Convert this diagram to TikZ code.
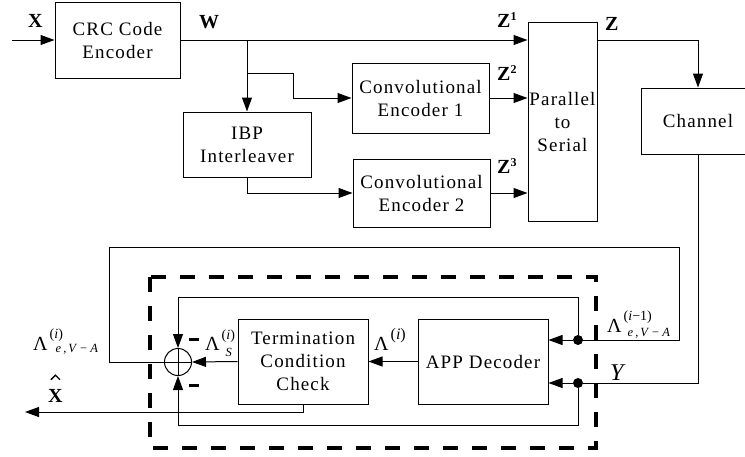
\RequirePackage{fix-cm}
\documentclass[tikz,border=0pt]{standalone}
\usepackage{fontspec}
\setmainfont{Liberation Serif}
\usetikzlibrary{arrows.meta}
\newcommand{\supf}{\fontsize{14}{14}\selectfont}
\newcommand{\subf}{\fontsize{12.5}{12.5}\selectfont}
\newcommand{\digf}{\fontsize{12}{12}\selectfont}
\newcommand{\evaSub}{\subf\textit{e}\kern2pt,\kern2pt\textit{V}\kern3pt−\kern3pt\textit{A}}
\begin{document}
\begin{tikzpicture}[x=1pt,y=-1pt,
  box/.style={draw,line width=1pt,align=center,inner sep=0pt,
    font=\fontsize{19}{23}\selectfont\addfontfeatures{LetterSpace=6}},
  wire/.style={line width=1pt},
  arr/.style={wire,-{Triangle[length=14pt,width=10pt]}},
  lbl/.style={font=\fontsize{20}{22}\selectfont\bfseries,inner sep=0pt,anchor=base west},
  mlbl/.style={font=\fontsize{20}{22}\selectfont,inner sep=0pt,anchor=base west},
  dot/.style={circle,fill,inner sep=0pt,minimum size=10pt},
  minus/.style={inner sep=0pt},
  sumnode/.style={circle,draw,line width=1pt,minimum size=27pt,inner sep=0pt,
    path picture={\draw[line width=1pt]
      (path picture bounding box.north) -- (path picture bounding box.south)
      (path picture bounding box.west) -- (path picture bounding box.east);}},
  dashbox/.style={line width=3.5pt,dash pattern=on 15pt off 14pt}
]
\useasboundingbox (0,0) rectangle (745,456);
% blocks
\node[box,minimum width=125pt,minimum height=76pt] (crc) at (117.5,40) {CRC Code\\Encoder};
\node[box,minimum width=137pt,minimum height=70pt] (ce1) at (420.5,98) {Convolutional\\Encoder 1};
\node[box,minimum width=128pt,minimum height=65pt] (ibp) at (247,144.5) {IBP\\Interleaver};
\node[box,minimum width=137pt,minimum height=68pt] (ce2) at (421.5,193) {Convolutional\\Encoder 2};
\node[box,minimum width=69pt,minimum height=199pt] (ps) at (562.5,121.5) {Parallel\\to\\Serial};
\node[box,minimum width=114pt,minimum height=66pt] (ch) at (698,121) {Channel};
\node[box,minimum width=130pt,minimum height=85pt] (tcc) at (303,361.5) {Termination\\Condition\\Check};
\node[box,minimum width=130pt,minimum height=85pt] (app) at (483,361.5) {APP Decoder};
\node[sumnode] (sum) at (178,362) {};
\node[dot] (d1) at (578,340) {};
\node[dot] (d2) at (578,383) {};
% dashed decoder region
\draw[dashbox] (150,277) rectangle (596,448);
% coordinates
\coordinate (xin) at (12,40);
\coordinate (b1) at (247,40);
\coordinate (b2) at (247,73);
\coordinate (xout) at (25,412);
% encoder part
\draw[arr] (xin) -- (crc.west);
\draw[arr] (crc.east) -- (crc.east -| ps.west);
\draw[arr] (b1) -- (ibp.north);
\draw[arr] (b2) -- (293,73) -- (293,98) -- (ce1.west);
\draw[arr] (ibp.south) |- (ce2.west);
\draw[arr] (ce1.east) -- (ce1.east -| ps.west);
\draw[arr] (ce2.east) -- (ce2.east -| ps.west);
\draw[arr] (crc.east -| ps.east) -| (ch.north);
% decoder part
\draw[wire] (ch.south) |- (d2);
\draw[arr] (d2) -- (d2 -| app.east);
\draw[wire] (sum.west) -- (109,362) -- (109,247) -- (679,247) -- (679,340) -- (d1);
\draw[arr] (d1) -- (d1 -| app.east);
\draw[arr] (d1) -- (578,297) -- (178,297) -- (sum.north);
\draw[arr] (d2) -- (578,425) -- (178,425) -- (sum.south);
\draw[arr] (app.west) -- (tcc.east);
\draw[arr] (tcc.west) -- (sum.east);
\draw[arr] (tcc.south) |- (xout);
% minus signs
\node[minus] (m1) at (194,339) {\rule{10pt}{3pt}};
\node[minus] (m2) at (194,385) {\rule{10pt}{3pt}};
% labels
\node[lbl] (lx) at (28,27) {X};
\node[lbl] (lw) at (199,28) {W};
\node[lbl] (lz1) at (497,27) {Z\raisebox{7pt}{\digf 1}};
\node[lbl] (lz2) at (497,80) {Z\raisebox{7pt}{\digf 2}};
\node[lbl] (lz3) at (497,173) {Z\raisebox{7pt}{\digf 3}};
\node[lbl] (lz) at (605,30) {Z};
\node[lbl] (lxh) at (48,402) {X};
\draw[line width=1.3pt,line join=miter]
  ([shift={(-4.5,-9)}]lxh.north) -- ([shift={(0,-13.5)}]lxh.north) -- ([shift={(4.5,-9)}]lxh.north);
\node[mlbl] (l1) at (33,350) {Λ\kern2pt\rlap{\raisebox{12pt}{\supf(\textit{i})}}\kern6pt\raisebox{-2pt}{\evaSub}};
\node[mlbl] (l2) at (205,350) {Λ\kern2pt\rlap{\raisebox{-6pt}{\subf\kern4pt\textit{S}}}\raisebox{11pt}{\supf(\textit{i})}};
\node[mlbl] (l3) at (374,350) {Λ\kern2pt\raisebox{11pt}{\fontsize{16}{16}\selectfont(\textit{i})}};
\node[mlbl] (l4) at (607,332) {Λ\kern2pt\rlap{\raisebox{12pt}{\supf(\textit{i}−1)}}\kern4pt\raisebox{-4pt}{\evaSub}};
\node[mlbl,font=\fontsize{24}{24}\selectfont] (l5) at (610,380) {\textit{Y}};
\end{tikzpicture}
\end{document}
